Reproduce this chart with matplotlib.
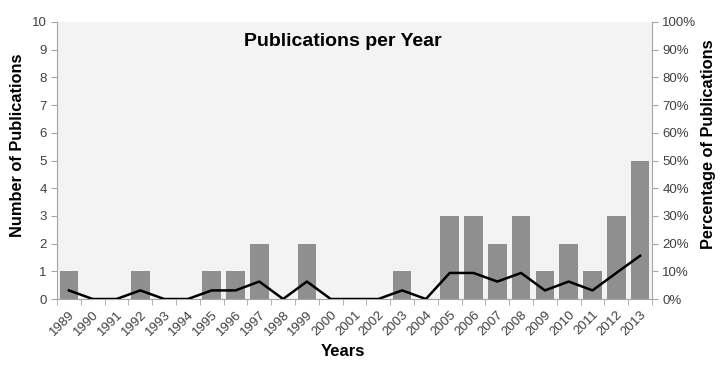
import matplotlib.pyplot as plt
from matplotlib.ticker import FuncFormatter

plt.rcParams['font.family'] = ['Liberation Sans', 'DejaVu Sans']

years = [str(y) for y in range(1989, 2014)]
counts = [1, 0, 0, 1, 0, 0, 1, 1, 2, 0, 2, 0, 0, 0, 1, 0,
          3, 3, 2, 3, 1, 2, 1, 3, 5]
percent = [3.1, 0, 0, 3.1, 0, 0, 3.1, 3.1, 6.3, 0, 6.3, 0, 0, 0, 3.1, 0,
           9.4, 9.4, 6.3, 9.4, 3.1, 6.3, 3.1, 9.4, 15.6]

x = list(range(len(years)))
axis_gray = '#a6a6a6'
text_gray = '#404040'

fig = plt.figure(figsize=(7.26, 3.70), dpi=100)
ax = fig.add_axes([57 / 726, 1 - 299 / 370, (652 - 57) / 726, (299 - 22) / 370])
ax.set_facecolor('#f3f3f3')

ax.bar(x, counts, width=0.78, color='#8f8f8f', zorder=2)
ax.set_xlim(-0.5, len(years) - 0.5)
ax.set_ylim(0, 10)
ax.set_yticks(range(0, 11))

# category ticks between bars, labels at bar centres
ax.set_xticks(x)
ax.set_xticklabels(years, rotation=45, ha='right', rotation_mode='anchor',
                   fontsize=9.5, color=text_gray)
ax.tick_params(axis='x', which='major', length=0, pad=7)
ax.set_xticks([i - 0.5 for i in range(len(years) + 1)], minor=True)
ax.tick_params(axis='x', which='minor', length=4, color=axis_gray)
ax.tick_params(axis='y', length=4, color=axis_gray, labelsize=9.5,
               labelcolor=text_gray)

for side in ['top', 'right']:
    ax.spines[side].set_visible(False)
for side in ['left', 'bottom']:
    ax.spines[side].set_color(axis_gray)

ax2 = ax.twinx()
ax2.plot(x, percent, color='black', lw=1.8, zorder=3)
ax2.set_ylim(0, 100)
ax2.set_yticks(range(0, 101, 10))
ax2.yaxis.set_major_formatter(FuncFormatter(lambda v, p: f'{int(v)}%'))
ax2.tick_params(axis='y', length=4, color=axis_gray, labelsize=9.5,
                labelcolor=text_gray)
for side in ['top', 'left', 'bottom']:
    ax2.spines[side].set_visible(False)
ax2.spines['right'].set_color(axis_gray)

fig.text(18 / 726, 1 - 145 / 370, 'Number of Publications', rotation=90,
         ha='center', va='center', fontsize=11.8, fontweight='bold')
fig.text(708 / 726, 1 - 144 / 370, 'Percentage of Publications', rotation=90,
         ha='center', va='center', fontsize=11.8, fontweight='bold')
fig.text(343 / 726, 1 - 352 / 370, 'Years', ha='center', va='center',
         fontsize=12, fontweight='bold')
ax.text(0.48, 0.93, 'Publications per Year', transform=ax.transAxes,
        ha='center', va='center', fontsize=14, fontweight='bold')

plt.savefig('out.png', dpi=100)
